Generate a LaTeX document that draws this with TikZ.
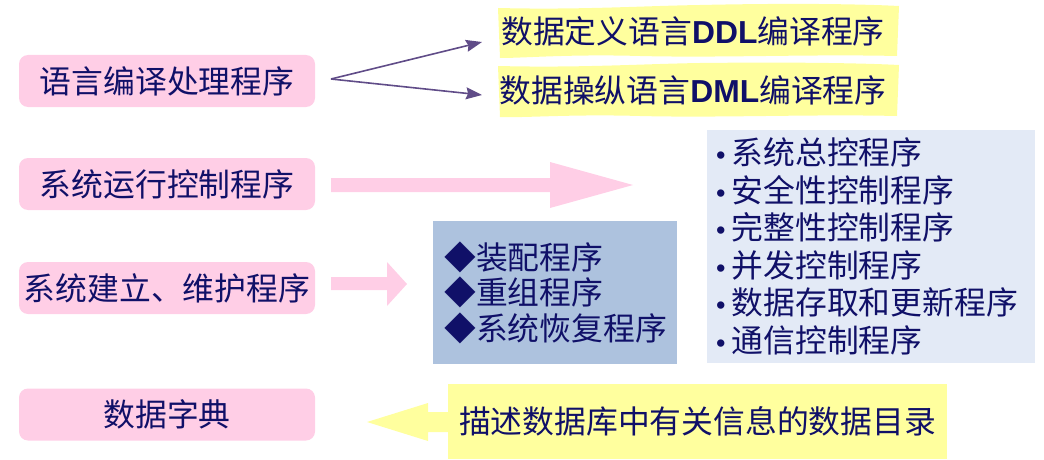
\documentclass[tikz,border=0pt]{standalone}
\usepackage{fontspec}
\usepackage{xcolor}
\usetikzlibrary{arrows.meta}
\newfontfamily\cjk{Noto Sans CJK SC}
\newfontfamily\latin{Liberation Sans}
\definecolor{inkblue}{RGB}{16,16,104}
\definecolor{boxpink}{RGB}{255,206,230}
\definecolor{hiyellow}{RGB}{255,255,158}
\definecolor{boxblue}{RGB}{173,194,222}
\definecolor{paleblue}{RGB}{227,234,246}
\definecolor{linkpurple}{RGB}{96,76,136}
\newcommand\blt{{\latin\fontsize{27}{27}\selectfont\textbullet}\hspace{6pt}}
\newcommand\abbr[1]{{\latin\bfseries #1}}
\tikzset{
  txt/.style={text=inkblue, inner sep=0pt, font=\cjk\fontsize{31.8}{37.5}\selectfont},
  progbox/.style={txt, fill=boxpink, rounded corners=9pt, minimum width=296pt, minimum height=52pt},
  link/.style={linkpurple, line width=1.6pt, -{Stealth[length=16pt,width=12pt,inset=2pt]}}
}

\begin{document}
\begin{tikzpicture}[x=1pt,y=-1pt] %pixel grid, y downwards
\useasboundingbox (0,0) rectangle (1044,460);

% left column
\node[progbox] (lang) at (167,81) {语言编译处理程序};
\node[progbox] (run) at (167,184) {系统运行控制程序};
\node[progbox] (build) at (167,288) {系统建立、维护程序};
\node[progbox] (dict) at (167,414.5) {数据字典};

% compilers
\fill[hiyellow] (498,8) .. controls (580,10) and (640,6) .. (700,5) .. controls (790,3) and (860,4) .. (899,6) -- (897,56) .. controls (810,54) and (720,58) .. (640,56) .. controls (570,54) and (525,58) .. (500,58) -- cycle;
\fill[hiyellow] (498,66) .. controls (580,68) and (640,64) .. (700,63) .. controls (790,62) and (860,63) .. (899,65) -- (897,116) .. controls (810,114) and (720,118) .. (640,116) .. controls (570,114) and (525,118) .. (500,117) -- cycle;
\node[txt] (ddl) at (693,31) {数据定义语言\abbr{DDL}编译程序};
\node[txt] (dml) at (693,90) {数据操纵语言\abbr{DML}编译程序};

\coordinate (split) at (331,79);
\coordinate (ddlend) at (482,42);
\coordinate (dmlend) at (482,95);
\draw[link] (split) -- (ddlend);
\draw[link] (split) -- (dmlend);

% fat arrows
\fill[boxpink] (331,178) -- (550,178) -- (550,162) -- (633,185) -- (550,208) -- (550,192) -- (331,192) -- cycle;
\fill[boxpink] (331,277) -- (387,277) -- (387,262) -- (407,284) -- (387,306) -- (387,290) -- (331,290) -- cycle;
\fill[hiyellow] (448,412) -- (428,412) -- (428,403) -- (367,422) -- (428,441) -- (428,432) -- (448,432) -- cycle;

% control programs
\node[fill=paleblue, minimum width=328pt, minimum height=233pt, inner sep=0pt] (ctrl) at (871,246.5) {};
\node[txt, anchor=west, align=left] (ctrllist) at (716,246.5) {\blt 系统总控程序\\ \blt 安全性控制程序\\ \blt 完整性控制程序\\ \blt 并发控制程序\\ \blt 数据存取和更新程序\\ \blt 通信控制程序};

% maintenance programs
\node[fill=boxblue, minimum width=244pt, minimum height=143pt, inner sep=0pt] (maint) at (555,292.5) {};
\node[txt, anchor=west, align=left, font=\cjk\fontsize{31.8}{35.5}\selectfont] (maintlist) at (444,292.5) {◆装配程序\\ ◆重组程序\\ ◆系统恢复程序};

% catalogue
\node[txt, fill=hiyellow, minimum width=499pt, minimum height=75pt] (catalog) at (697.5,421.5) {描述数据库中有关信息的数据目录};
\end{tikzpicture}
\end{document}
